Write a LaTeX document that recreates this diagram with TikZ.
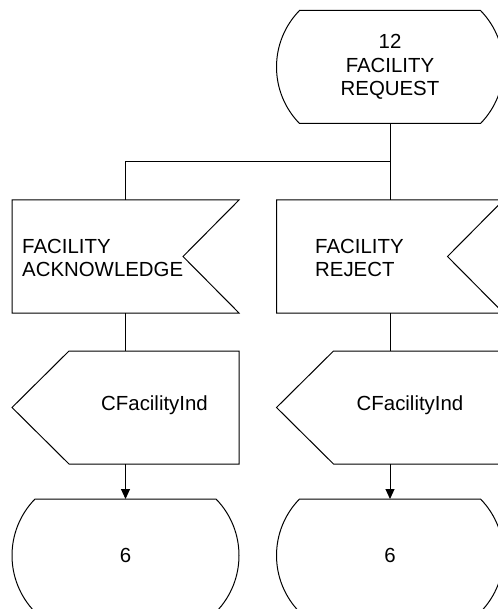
\documentclass[tikz,border=0pt]{standalone}
\usepackage{fontspec}
\setmainfont{Liberation Sans}
\usetikzlibrary{calc,arrows.meta}

% SDL symbol outlines drawn round an invisible frame node
\newcommand{\sdlstate}[1]{%
  \draw[outline] ($(#1.north west)+(23,0)$) -- ($(#1.north east)+(-23,0)$)
    arc[start angle=44.3,end angle=-44.3,radius=80.9pt]
    -- ($(#1.south west)+(23,0)$)
    arc[start angle=224.3,end angle=135.7,radius=80.9pt] -- cycle;}
\newcommand{\sdlinput}[1]{%
  \draw[outline] (#1.north west) -- (#1.north east) -- ($(#1.east)+(-56,0)$)
    -- (#1.south east) -- (#1.south west) -- cycle;}
\newcommand{\sdloutput}[1]{%
  \draw[outline] (#1.west) -- ($(#1.north west)+(57,0)$) -- (#1.north east)
    -- (#1.south east) -- ($(#1.south west)+(57,0)$) -- cycle;}

\begin{document}
\begin{tikzpicture}[x=1pt,y=1pt,
  txt/.style={font=\fontsize{20.4}{23.5}\selectfont, inner sep=0pt, align=center},
  frame/.style={txt, minimum width=227pt, minimum height=113pt, outer sep=0pt},
  outline/.style={line width=1pt, line join=miter},
  link/.style={line width=1pt},
  arrow/.style={link, -{Triangle[length=10pt,width=9pt]}}]
\useasboundingbox (0,0) rectangle (497,-609);

% frames
\node[frame] (req)  at (390,-67)     {12\\FACILITY\\REQUEST};
\node[frame] (ack)  at (125.5,-256.5) {};
\node[frame] (rej)  at (390,-256.5)   {};
\node[frame] (ind1) at (125.5,-407.5) {};
\node[frame] (ind2) at (390,-407.5)   {};
\node[frame] (s1)   at (125.5,-555.5) {6};
\node[frame] (s2)   at (390,-555.5)   {6};

% outlines
\sdlstate{req}
\sdlinput{ack}
\sdlinput{rej}
\sdloutput{ind1}
\sdloutput{ind2}
\sdlstate{s1}
\sdlstate{s2}

% labels
\node[txt, align=left, anchor=west] (ackt) at (22,-258) {FACILITY\\ACKNOWLEDGE};
\node[txt, align=left, anchor=west] (rejt) at (315,-258) {FACILITY\\REJECT};
\node[txt] (ind1t) at (154.5,-405) {CFacilityInd};
\node[txt] (ind2t) at (410,-405)   {CFacilityInd};

% connectors
\coordinate (split) at (390,-162);
\draw[link] (req.south) -- (rej.north);
\draw[link] (split) -| (ack.north);
\draw[link] (ack.south) -- (ind1.north);
\draw[link] (rej.south) -- (ind2.north);
\draw[arrow] (ind1.south) -- (s1.north);
\draw[arrow] (ind2.south) -- (s2.north);
\end{tikzpicture}
\end{document}
